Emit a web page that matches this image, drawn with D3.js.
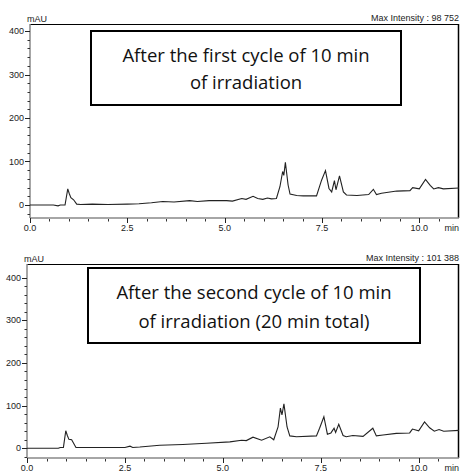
<!DOCTYPE html>
<html lang="en">
<head>
  <meta charset="UTF-8">
  <title>Chromatograms</title>
  <style>
    body { margin: 0; background: #fff; }
    .tick-label { font-family: 'Liberation Sans', Arial, sans-serif; font-size: 9px; fill: #222; }
    .box-text { font-family: 'Open Sans', sans-serif; font-size: 18.5px; fill: #111; }
  </style>
</head>
<body>
  <svg width="461" height="471"></svg>
  <script src="https://cdn.jsdelivr.net/npm/d3@7"></script>
  <script>
    // time (min) / absorbance (mAU)
    var time1 = [0, 0.6, 0.72, 0.78, 0.9, 0.97, 1.01, 1.05, 1.12, 1.2, 1.3, 1.6, 2.0, 2.5, 2.8, 3.12, 3.41, 3.7, 4.1, 4.3, 4.6, 5.05,
      5.2, 5.44, 5.55, 5.73, 5.85, 5.98, 6.1, 6.2, 6.33, 6.42, 6.49, 6.52, 6.56, 6.63, 6.68, 6.85, 7.02, 7.36,
      7.49, 7.59, 7.68, 7.75, 7.82, 7.86, 7.95, 8.05, 8.13, 8.4, 8.7, 8.82, 8.9, 9.03, 9.42, 9.76, 9.83, 10.0,
      10.16, 10.28, 10.37, 10.49, 10.62, 11.02]
    var value1 = [0, 0, -2, 0, 0, 37, 26, 17, 12, 2, 1, 2, 1, 2, 3, 5, 8, 7, 10, 8, 10, 10,
      9, 15, 13, 20, 15, 13, 16, 14, 15, 42, 77, 68, 98, 46, 25, 22, 21, 21,
      57, 79, 38, 30, 56, 35, 67, 30, 23, 22, 24, 36, 24, 27, 32, 33, 40, 37,
      59, 45, 37, 40, 37, 39]

    var time2 = [0, 0.8, 0.85, 0.93, 0.99, 1.03, 1.07, 1.14, 1.25, 1.5, 2.0, 2.5, 2.63, 2.7, 2.88, 3.39, 3.98, 4.58, 5.18,
      5.48, 5.6, 5.77, 5.99, 6.2, 6.3, 6.41, 6.47, 6.51, 6.56, 6.64, 6.71, 6.88, 7.39,
      7.47, 7.58, 7.67, 7.76, 7.84, 7.88, 7.96, 8.07, 8.15, 8.32, 8.58, 8.83, 8.92, 9.09,
      9.43, 9.77, 9.84, 10.0, 10.15, 10.28, 10.4, 10.52, 10.64, 11.03]
    var value2 = [0, 0, 2, 2, 41, 30, 21, 20, 2, 2, 2, 2, 5, 2, 3, 7, 9, 12, 15,
      19, 18, 26, 19, 27, 20, 50, 94, 78, 104, 50, 29, 27, 29,
      47, 74, 33, 36, 47, 37, 56, 30, 27, 30, 28, 47, 29, 31,
      35, 36, 45, 41, 62, 48, 40, 44, 40, 42]

    var xTicks = [0, 2.5, 5, 7.5, 10]
    var yTicks = [0, 100, 200, 300, 400]
    var titles1 = ['After the first cycle of 10 min', 'of irradiation']
    var titles2 = ['After the second cycle of 10 min', 'of irradiation (20 min total)']
    var maxIntensity = ['Max Intensity : 98 752', 'Max Intensity : 101 388']

    var svg = d3.select('svg')

    var panels = [
      { t: time1, v: value1, left: 30, right: 459, top: 24, bottom: 218, zeroY: 205, y400: 31, xMax: 11.02,
        titles: titles1, max: maxIntensity[0], box: [91, 31, 401, 105], base: [62, 89] },
      { t: time2, v: value2, left: 27, right: 459, top: 264, bottom: 458, zeroY: 448.3, y400: 277.5, xMax: 11.03,
        titles: titles2, max: maxIntensity[1], box: [88, 268, 420, 343], base: [299, 328] }
    ]

    panels.forEach(function(p) {
      var x = d3.scaleLinear().domain([0, p.xMax]).range([p.left, p.right])
      var k = (p.zeroY - p.y400) / 400
      var y = d3.scaleLinear()
        .domain([(p.zeroY - p.bottom) / k, (p.zeroY - p.top) / k])
        .range([p.bottom, p.top])

      var g = svg.append('g')

      // frame: black top / right, grey axes
      g.append('line').attr('x1', p.left).attr('x2', p.right).attr('y1', p.top + 0.5).attr('y2', p.top + 0.5)
        .attr('stroke', '#000').attr('stroke-width', 1)
      g.append('line').attr('x1', p.right - 0.5).attr('x2', p.right - 0.5).attr('y1', p.top).attr('y2', p.bottom)
        .attr('stroke', '#000').attr('stroke-width', 1.5)

      // y axis
      var yAxis = g.append('g').attr('transform', 'translate(' + p.left + ',0)')
      yAxis.append('line').attr('y1', p.top).attr('y2', p.bottom).attr('stroke', '#888').attr('stroke-width', 1.5)
      yAxis.selectAll('.ymin').data(d3.range(-20, 420, 20)).enter().append('line')
        .attr('x1', -2.5).attr('x2', 0)
        .attr('y1', function(d) { return Math.round(y(d)) + 0.5 })
        .attr('y2', function(d) { return Math.round(y(d)) + 0.5 })
        .attr('stroke', '#333')
      yAxis.selectAll('.ymaj').data(yTicks).enter().append('line')
        .attr('x1', -5).attr('x2', 0)
        .attr('y1', function(d) { return Math.round(y(d)) + 0.5 })
        .attr('y2', function(d) { return Math.round(y(d)) + 0.5 })
        .attr('stroke', '#222')
      yAxis.selectAll('.ylab').data(yTicks).enter().append('text')
        .attr('class', 'tick-label')
        .attr('x', -6).attr('y', function(d) { return y(d) + 3 })
        .attr('text-anchor', 'end')
        .text(function(d) { return d })

      // x axis
      var xAxis = g.append('g').attr('transform', 'translate(0,' + p.bottom + ')')
      xAxis.append('line').attr('x1', p.left).attr('x2', p.right).attr('stroke', '#888').attr('stroke-width', 1.5)
      xAxis.selectAll('.xmin').data(d3.range(0.5, 11, 0.5)).enter().append('line')
        .attr('x1', function(d) { return Math.round(x(d)) + 0.5 })
        .attr('x2', function(d) { return Math.round(x(d)) + 0.5 })
        .attr('y1', 1).attr('y2', 3.5).attr('stroke', '#333')
      xAxis.selectAll('.xmaj').data(xTicks).enter().append('line')
        .attr('x1', function(d) { return Math.round(x(d)) + 0.5 })
        .attr('x2', function(d) { return Math.round(x(d)) + 0.5 })
        .attr('y1', 0).attr('y2', 5).attr('stroke', '#222')
      xAxis.selectAll('.xlab').data(xTicks).enter().append('text')
        .attr('class', 'tick-label')
        .attr('x', function(d) { return x(d) }).attr('y', 12.5)
        .attr('text-anchor', 'middle')
        .text(function(d) { return d.toFixed(1) })
      xAxis.append('text').attr('class', 'tick-label')
        .attr('x', p.right).attr('y', 12.5).attr('text-anchor', 'end').text('min')

      g.append('text').attr('class', 'tick-label')
        .attr('x', p.left - 3).attr('y', p.top - 2.5).text('mAU')
      g.append('text').attr('class', 'tick-label')
        .attr('x', p.right).attr('y', p.top - 3).attr('text-anchor', 'end').text(p.max)

      // trace
      var line = d3.line()
        .x(function(d, i) { return x(p.t[i]) })
        .y(function(d) { return y(d) })
      g.append('path').datum(p.v)
        .attr('d', line)
        .attr('fill', 'none')
        .attr('stroke', '#222')
        .attr('stroke-width', 1.1)

      // caption box
      g.append('rect')
        .attr('x', p.box[0]).attr('y', p.box[1])
        .attr('width', p.box[2] - p.box[0]).attr('height', p.box[3] - p.box[1])
        .attr('fill', '#fff').attr('stroke', '#000').attr('stroke-width', 2)
      p.titles.forEach(function(s, i) {
        g.append('text').attr('class', 'box-text')
          .attr('x', (p.box[0] + p.box[2]) / 2).attr('y', p.base[i])
          .attr('text-anchor', 'middle')
          .text(s)
      })
    })
  </script>
</body>
</html>
